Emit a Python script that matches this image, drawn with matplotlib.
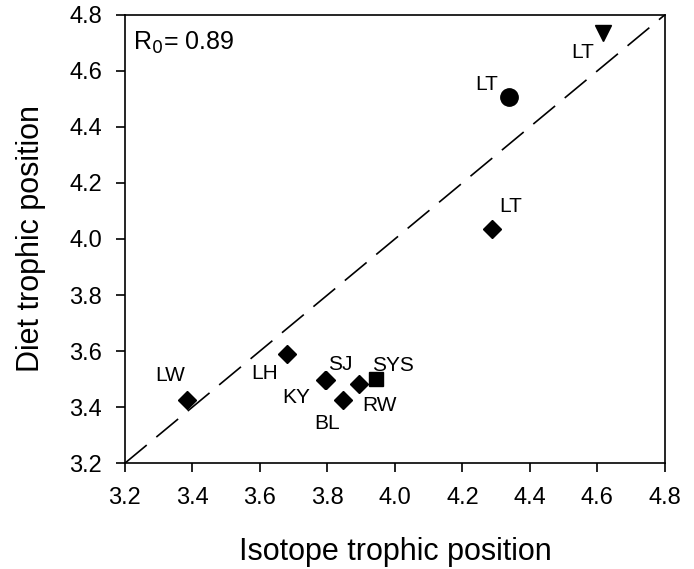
import matplotlib
matplotlib.use("Agg")
import matplotlib.pyplot as plt

plt.rcParams["font.family"] = ["Liberation Sans", "DejaVu Sans"]

# isotope vs diet trophic position
iso_x = [3.384, 3.679, 3.793, 3.795, 3.847, 3.893, 3.944, 4.287, 4.339, 4.617]
diet_y = [3.425, 3.589, 3.496, 3.498, 3.427, 3.481, 3.499, 4.037, 4.508, 4.735]
labels = ["LW", "LH", "SJ", "KY", "BL", "RW", "SYS", "LT", "LT", "LT"]
markers = ["D", "D", "D", "D", "D", "D", "s", "D", "o", "v"]
# label offsets in points (dx, dy)
offsets = [(-12, 18), (-16, -14), (11, 11), (-21, -13), (-12, -17),
           (15, -15), (12, 10), (14, 16), (-16, 9), (-15, -14)]
ticks = [3.2, 3.4, 3.6, 3.8, 4.0, 4.2, 4.4, 4.6, 4.8]

msize = {"D": 9.5, "s": 10, "o": 12.5, "v": 12}

fig = plt.figure(figsize=(6.94, 5.69), dpi=100)
ax = fig.add_axes([0.180, 0.186, 0.778, 0.788])

ax.plot([3.2, 4.8], [3.2, 4.8], color="black", lw=1.2, dashes=(17, 7.5))

for x, y, m, lab, (dx, dy) in zip(iso_x, diet_y, markers, labels, offsets):
    ax.plot(x, y, marker=m, color="black", markersize=msize[m], linestyle="none")
    ax.annotate(lab, (x, y), xytext=(dx, dy), textcoords="offset points",
                ha="center", va="center", fontsize=15)

ax.text(0.015, 0.937, r"R$_0$= 0.89", transform=ax.transAxes,
        fontsize=18, ha="left", va="center")

ax.set_xlim(3.2, 4.8)
ax.set_ylim(3.2, 4.8)
ax.set_xticks(ticks)
ax.set_yticks(ticks)
ax.set_xticklabels([f"{t:.1f}" for t in ticks])
ax.set_yticklabels([f"{t:.1f}" for t in ticks])
ax.tick_params(direction="out", length=6.5, width=1.2, labelsize=17,
               top=False, right=False)
ax.tick_params(axis="x", pad=11)
ax.tick_params(axis="y", pad=10)
for s in ax.spines.values():
    s.set_linewidth(1.2)

ax.set_xlabel("Isotope trophic position", fontsize=22, labelpad=20)
ax.set_ylabel("Diet trophic position", fontsize=22, labelpad=17)

fig.savefig("out.png", dpi=100)
